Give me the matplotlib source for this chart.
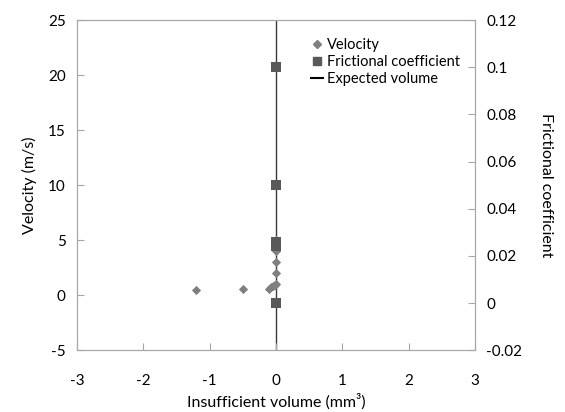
import matplotlib
matplotlib.use("Agg")
import matplotlib.pyplot as plt
from matplotlib.lines import Line2D

plt.rcParams['font.family'] = ['Lato', 'DejaVu Sans']
plt.rcParams['axes.unicode_minus'] = False

# velocity data (left axis)
vel_x = [-1.2, -0.5, -0.1, -0.08, -0.05, -0.02, 0.0, 0.0, 0.0, 0.0, 0.0]
vel_y = [0.5, 0.55, 0.6, 0.7, 0.8, 0.9, 1.0, 2.0, 3.0, 4.0, 5.0]

# frictional coefficient (right axis)
fric_x = [0.0, 0.0, 0.0, 0.0, 0.0]
fric_y = [0.1, 0.05, 0.026, 0.024, 0.0]

# expected volume line
exp_x = [0.0, 0.0]
exp_y = [-5, 25]

grey_spine = '#a6a6a6'

fig = plt.figure(figsize=(5.65, 4.12), dpi=100)
ax = fig.add_axes([0.136, 0.150, 0.705, 0.801])
ax2 = ax.twinx()

ax.plot(exp_x, exp_y, color='#3a3a3a', lw=1.0, zorder=1)
ax.scatter(vel_x, vel_y, marker='D', s=22, color='#7f7f7f', zorder=3, linewidths=0)
ax2.scatter(fric_x, fric_y, marker='s', s=45, color='#595959', zorder=3, linewidths=0)

ax.set_xlim(-3, 3)
ax.set_ylim(-5, 25)
ax2.set_ylim(-0.02, 0.12)
ax.set_xticks([-3, -2, -1, 0, 1, 2, 3])
ax.set_yticks([-5, 0, 5, 10, 15, 20, 25])
ax2.set_yticks([-0.02, 0, 0.02, 0.04, 0.06, 0.08, 0.1, 0.12])
ax2.set_yticklabels(['-0.02', '0', '0.02', '0.04', '0.06', '0.08', '0.1', '0.12'])

for a in (ax, ax2):
    for s in a.spines.values():
        s.set_color(grey_spine)
    a.tick_params(direction='in', length=5, color=grey_spine, labelsize=11, pad=8)
ax.tick_params(axis='x', pad=17)

ax.set_xlabel('Insufficient volume (mm³)', fontsize=11.5, labelpad=4)
ax.set_ylabel('Velocity (m/s)', fontsize=11.5, labelpad=8)
ax2.set_ylabel('Frictional coefficient', fontsize=11.5, rotation=270, labelpad=22)

handles = [
    Line2D([], [], marker='D', ls='', color='#7f7f7f', markersize=4),
    Line2D([], [], marker='s', ls='', color='#595959', markersize=6),
    Line2D([], [], color='black', lw=1.5),
]
ax.legend(handles, ['Velocity', 'Frictional coefficient', 'Expected volume'],
          loc='upper left', bbox_to_anchor=(0.555, 0.985), frameon=False,
          fontsize=10.5, handlelength=0.8, handletextpad=0.3, labelspacing=0.2)

fig.savefig('out.png', dpi=100)
